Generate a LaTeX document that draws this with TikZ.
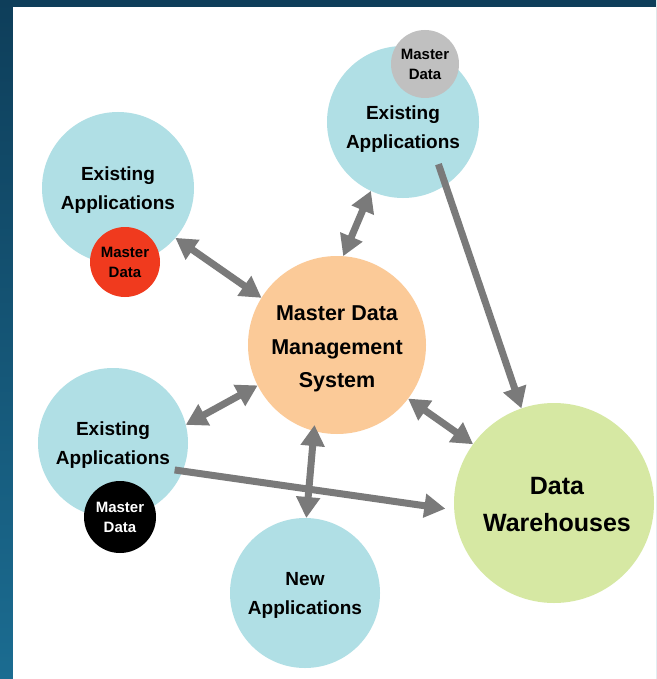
\documentclass[tikz,border=0pt]{standalone}
\usepackage{fontspec}
\setmainfont{Liberation Sans}
\usetikzlibrary{arrows.meta,calc}
\definecolor{appblue}{RGB}{176,223,229}
\definecolor{mdmorange}{RGB}{251,202,152}
\definecolor{dwgreen}{RGB}{214,232,163}
\definecolor{mdred}{RGB}{240,58,30}
\definecolor{mdgray}{RGB}{192,192,192}
\definecolor{arrgray}{RGB}{122,122,122}
\definecolor{bgtop}{RGB}{14,62,90}
\definecolor{bgbot}{RGB}{27,108,145}
\begin{document}
\begin{tikzpicture}[x=1pt,y=-1pt,
  >={Triangle[width=23pt,length=21pt]},
  bubble/.style={circle, inner sep=0pt, outer sep=0pt},
  lbl/.style={inner sep=0pt, align=center},
  app/.style={bubble, fill=appblue, minimum size=152pt},
  apptxt/.style={lbl, font=\bfseries\fontsize{19}{29}\selectfont},
  mdbub/.style={bubble, align=center, minimum size=70pt, font=\bfseries\fontsize{15}{20}\selectfont},
  mdm/.style={bubble, fill=mdmorange, minimum size=178pt},
  mdmtxt/.style={lbl, font=\bfseries\fontsize{21.5}{33.5}\selectfont},
  dw/.style={bubble, fill=dwgreen, minimum size=200pt},
  dwtxt/.style={lbl, font=\bfseries\fontsize{25}{37}\selectfont},
  conn/.style={draw=arrgray, line width=7pt, <->},
  oneway/.style={draw=arrgray, line width=7pt, ->}
  ]
% background and panel
\shade[top color=bgtop, bottom color=bgbot] (0,0) rectangle (656,679);
\fill[white] (13,7) rectangle (656,679);
\useasboundingbox (0,0) rectangle (656,679);

% main bubbles
\node[app] (ea1) at (118,188) {};
\node[apptxt] (ea1t) at (118,190) {Existing\\Applications};
\node[app] (ea2) at (403,122) {};
\node[apptxt] (ea2t) at (403,129) {Existing\\Applications};
\node[app, minimum size=150pt] (ea3) at (113,443) {};
\node[apptxt] (ea3t) at (113,445) {Existing\\Applications};
\node[app, minimum size=150pt] (new) at (305,593) {};
\node[apptxt] (newt) at (305,595) {New\\Applications};
\node[mdm] (mdm) at (337,345) {};
\node[mdmtxt] (mdmt) at (337,349) {Master Data\\Management\\System};
\node[dw] (dw) at (554,503) {};
\node[dwtxt] (dwt) at (557,505) {Data\\Warehouses};

% master data bubbles
\node[mdbub, fill=mdred] (md1) at (125,262) {Master\\Data};
\node[mdbub, fill=mdgray, minimum size=68pt] (md2) at (425,64) {Master\\Data};
\node[mdbub, fill=black, text=white, minimum size=72pt] (md3) at (120,517) {Master\\Data};

% connectors
\draw[conn] (ea1.-41) -- (mdm.148);
\draw[conn] (ea2.245) -- (mdm.86);
\draw[conn] (ea3.14) -- (mdm.207);
\draw[conn] (mdm.-37) -- (dw.144);
\draw[conn, shorten <=-6pt] (mdm.255) -- (new.89);
\draw[oneway, shorten <=-22pt] (ea2.-56) -- (dw.109);
\draw[oneway, shorten <=-8pt, shorten >=9pt] (ea3.-22) -- (dw.184);
\end{tikzpicture}
\end{document}
